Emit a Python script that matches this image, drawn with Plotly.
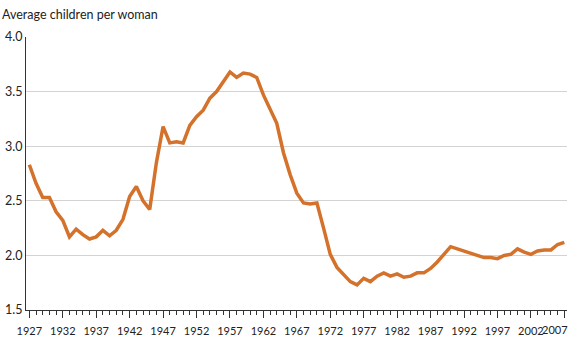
import plotly.graph_objects as go

# Total fertility rate, 1927-2007
years = list(range(1927, 2008))
fertility = [
    2.83, 2.66, 2.53, 2.53, 2.40, 2.32, 2.17, 2.24, 2.19, 2.15,   # 1927-1936
    2.17, 2.23, 2.18, 2.23, 2.33, 2.54, 2.63, 2.50, 2.42, 2.85,   # 1937-1946
    3.18, 3.03, 3.04, 3.03, 3.19, 3.27, 3.33, 3.44, 3.50, 3.59,   # 1947-1956
    3.68, 3.63, 3.67, 3.66, 3.63, 3.47, 3.33, 3.21, 2.94, 2.74,   # 1957-1966
    2.57, 2.48, 2.47, 2.48, 2.25, 2.01, 1.89, 1.83, 1.76, 1.73,   # 1967-1976
    1.79, 1.76, 1.81, 1.84, 1.81, 1.83, 1.80, 1.81, 1.84, 1.84,   # 1977-1986
    1.88, 1.94, 2.01, 2.08, 2.06, 2.04, 2.02, 2.00, 1.98, 1.98,   # 1987-1996
    1.97, 2.00, 2.01, 2.06, 2.03, 2.01, 2.04, 2.05, 2.05, 2.10,   # 1997-2006
    2.12,                                                         # 2007
]

x_tick_years = list(range(1927, 2008, 5))
y_tick_values = [1.5, 2.0, 2.5, 3.0, 3.5, 4.0]

line_color = "#D4722B"
text_color = "#222222"
axis_color = "#333333"
font_family = "Lato, 'Open Sans', sans-serif"
year_size = 11

# The final year label sits flush against the right edge, so it is drawn
# as an annotation aligned to the end of its tick instead of centred on it.
last_year = x_tick_years[-1]
x_tick_text = [str(y) if y != last_year else "" for y in x_tick_years]

fig = go.Figure()
fig.add_trace(go.Scatter(
    x=years, y=fertility, mode="lines",
    line=dict(color=line_color, width=3.5),
    hoverinfo="x+y", showlegend=False,
))

fig.add_annotation(
    x=last_year, y=0, xref="x", yref="paper",
    text=str(last_year), showarrow=False,
    xanchor="right", yanchor="middle", xshift=6, yshift=-19,
    font=dict(family=font_family, size=year_size, color=text_color),
)

fig.update_layout(
    width=572, height=347,
    margin=dict(l=24, r=5, t=37, b=37),
    paper_bgcolor="white", plot_bgcolor="white",
    font=dict(family=font_family, size=12.5, color=text_color),
    title=dict(
        text="Average children per woman",
        x=2 / 572, xref="container", xanchor="left",
        y=1 - 15 / 347, yref="container", yanchor="middle",
        font=dict(family=font_family, size=12.5, color=text_color),
    ),
)

fig.update_xaxes(
    range=[1926.5, 2007.4],
    tickmode="array", tickvals=x_tick_years, ticktext=x_tick_text,
    ticks="outside", ticklen=7, tickwidth=1, tickcolor=axis_color,
    minor=dict(dtick=1, tick0=1927, ticks="outside", ticklen=4,
               tickwidth=1, tickcolor=axis_color, showgrid=False),
    showline=True, linecolor=axis_color, linewidth=1,
    showgrid=False, zeroline=False,
    ticklabelstandoff=4,
    tickfont=dict(size=year_size, color=text_color),
)

fig.update_yaxes(
    range=[1.5, 4.0],
    tickmode="array", tickvals=y_tick_values,
    ticktext=[f"{v:.1f}" for v in y_tick_values],
    showline=True, linecolor=axis_color, linewidth=1,
    showgrid=True, gridcolor="#d3d3d3", gridwidth=1,
    zeroline=False, ticks="",
    tickfont=dict(size=12.5, color=text_color),
)

fig.write_html("out.html")
